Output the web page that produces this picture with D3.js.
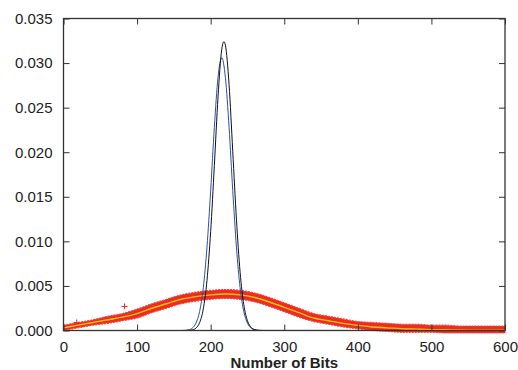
<!DOCTYPE html>
<html>
<head>
<meta charset="utf-8">
<script src="https://cdn.jsdelivr.net/npm/d3@7"></script>
<style>
  body { margin: 0; background: #fff; }
  svg { display: block; font-family: "Liberation Sans", Arial, Helvetica, sans-serif; }
  .axis text { font-size: 15px; fill: #222; }
  .axis path, .axis line { stroke: #333; }
</style>
</head>
<body>
<div id="chart"></div>
<script>
// x positions (number of bits) for the measured histogram band
const bandX = [0, 20, 40, 60, 80, 100, 120, 140, 160, 180, 200, 220, 240, 260, 280, 300,
  320, 340, 360, 380, 400, 420, 440, 460, 480, 500, 520, 540, 560, 580, 600];
// fitted curve (yellow)
const fitY = [0.0003, 0.0006, 0.0009, 0.0012, 0.0015, 0.0019, 0.0025, 0.0030, 0.0035, 0.0038,
  0.0040, 0.0041, 0.0040, 0.0037, 0.0032, 0.0026, 0.0020, 0.0014, 0.0011, 0.0008, 0.00057,
  0.0004, 0.0003, 0.0002, 0.00015, 0.0001, 0.00008, 0.00006, 0.00004, 0.00003, 0.00002];
// ragged edges of the red data cloud
const bandUpper = [0.0006, 0.0009, 0.0012, 0.0016, 0.0019, 0.0024, 0.0030, 0.0035, 0.0040, 0.0043,
  0.0045, 0.0046, 0.0045, 0.0042, 0.0037, 0.0031, 0.0025, 0.0019, 0.0016, 0.0013, 0.0010,
  0.0009, 0.0008, 0.0007, 0.0007, 0.0006, 0.0006, 0.0005, 0.0005, 0.0005, 0.0005];
const bandLower = [0.0000, 0.0003, 0.0006, 0.0008, 0.0011, 0.0014, 0.0020, 0.0025, 0.0030, 0.0033,
  0.0035, 0.0036, 0.0035, 0.0032, 0.0027, 0.0021, 0.0015, 0.0010, 0.0007, 0.0004, 0.0002,
  0.0000, -0.0001, -0.0002, -0.0002, -0.0002, -0.0003, -0.0003, -0.0003, -0.0003, -0.0003];
// isolated '+' points above the cloud
const outliers = [[18, 0.0009], [83, 0.0027]];

// narrow theoretical peaks
const blackX = [0, 165, 170, 175, 180, 185, 190, 195, 200, 205, 210, 215, 218, 220, 225, 230, 235,
  240, 245, 250, 255, 260, 265, 270, 600];
const blackY = [0, 0, 0.000016, 0.000072, 0.00027, 0.00089, 0.00243, 0.00563, 0.0111, 0.0185,
  0.0262, 0.0315, 0.0324, 0.0320, 0.0276, 0.0201, 0.0125, 0.00654, 0.00291, 0.0011, 0.00035,
  0.000095, 0.000022, 0.000004, 0];
const blueX = [0, 160, 165, 170, 175, 180, 185, 190, 195, 200, 205, 210, 215, 220, 225, 230, 235,
  240, 245, 250, 255, 260, 265, 270, 600];
const blueY = [0, 0, 0.000019, 0.000077, 0.00027, 0.00082, 0.00214, 0.0048, 0.00937, 0.0157, 0.0228,
  0.0284, 0.0306, 0.0284, 0.0228, 0.0157, 0.00937, 0.0048, 0.00214, 0.00082, 0.00027, 0.000077,
  0.000019, 0, 0];

const xTicks = [0, 100, 200, 300, 400, 500, 600];
const yTicks = [0, 0.005, 0.010, 0.015, 0.020, 0.025, 0.030, 0.035];

const W = 518, H = 370;
const margin = {top: 18.5, right: 13, bottom: 39.5, left: 63.5};
const width = W - margin.left - margin.right;
const height = H - margin.top - margin.bottom;

const svg = d3.select('#chart').append('svg')
  .attr('width', W)
  .attr('height', H);

const g = svg.append('g')
  .attr('transform', `translate(${margin.left}, ${margin.top})`);

const x = d3.scaleLinear().domain([0, 600]).range([0, width]);
const y = d3.scaleLinear().domain([0, 0.035]).range([height, 0]);

g.append('defs').append('clipPath').attr('id', 'clip')
  .append('rect').attr('x', -2).attr('y', 0).attr('width', width + 4).attr('height', height + 3);

const plot = g.append('g').attr('clip-path', 'url(#clip)');

// red data cloud
const band = bandX.map((d, i) => [d, bandLower[i], bandUpper[i]]);
const area = d3.area()
  .x(d => x(d[0]))
  .y0(d => y(d[1]))
  .y1(d => y(d[2]))
  .curve(d3.curveMonotoneX);
plot.append('path')
  .datum(band)
  .attr('d', area)
  .attr('fill', '#ee2a24')
  .attr('stroke', '#f04a40')
  .attr('stroke-width', 1.2)
  .attr('stroke-dasharray', '2,1');

plot.selectAll('.plus')
  .data(outliers)
  .enter().append('path')
  .attr('class', 'plus')
  .attr('d', d => `M${x(d[0]) - 3},${y(d[1])}h6M${x(d[0])},${y(d[1]) - 3}v6`)
  .attr('stroke', '#ee2a24')
  .attr('stroke-width', 1);

// yellow fit
const line = d3.line().curve(d3.curveMonotoneX);
plot.append('path')
  .datum(bandX.map((d, i) => [x(d), y(fitY[i])]))
  .attr('d', line)
  .attr('fill', 'none')
  .attr('stroke', '#f5c800')
  .attr('stroke-width', 1.4);

// blue and black peaks
plot.append('path')
  .datum(blueX.map((d, i) => [x(d), y(blueY[i])]))
  .attr('d', line)
  .attr('fill', 'none')
  .attr('stroke', '#2f4ea6')
  .attr('stroke-width', 1);
plot.append('path')
  .datum(blackX.map((d, i) => [x(d), y(blackY[i])]))
  .attr('d', line)
  .attr('fill', 'none')
  .attr('stroke', '#111')
  .attr('stroke-width', 1);

// axes (ticks pointing inward, mirrored on top and right)
const fmt = d3.format('.3f');
g.append('g')
  .attr('class', 'axis')
  .attr('transform', `translate(0, ${height})`)
  .call(d3.axisBottom(x).tickValues(xTicks).tickSizeInner(-6).tickSizeOuter(0).tickPadding(11))
  .call(a => a.select('.domain').remove());
g.append('g')
  .attr('class', 'axis')
  .call(d3.axisLeft(y).tickValues(yTicks).tickFormat(fmt).tickSizeInner(-6).tickSizeOuter(0).tickPadding(11))
  .call(a => a.select('.domain').remove());
g.append('g')
  .attr('class', 'axis')
  .call(d3.axisTop(x).tickValues(xTicks).tickSizeInner(-6).tickSizeOuter(0).tickFormat(''))
  .call(a => a.select('.domain').remove());
g.append('g')
  .attr('class', 'axis')
  .attr('transform', `translate(${width}, 0)`)
  .call(d3.axisRight(y).tickValues(yTicks).tickSizeInner(-6).tickSizeOuter(0).tickFormat(''))
  .call(a => a.select('.domain').remove());

g.append('rect')
  .attr('width', width)
  .attr('height', height)
  .attr('fill', 'none')
  .attr('stroke', '#333')
  .attr('stroke-width', 1.3);

svg.append('text')
  .attr('x', margin.left + width / 2)
  .attr('y', H - 2)
  .attr('text-anchor', 'middle')
  .style('font-size', '15px')
  .style('font-weight', 'bold')
  .style('fill', '#222')
  .text('Number of Bits');
</script>
</body>
</html>
